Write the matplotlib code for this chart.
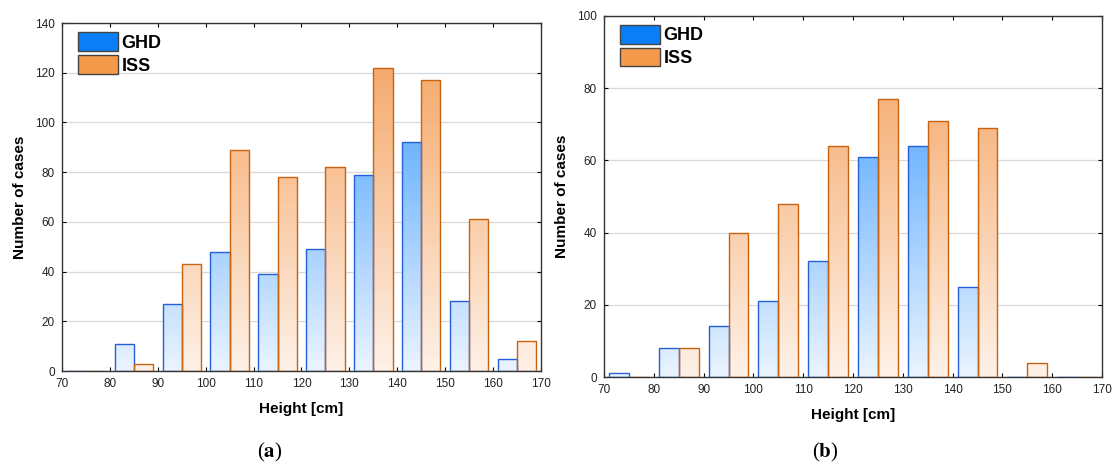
import matplotlib

matplotlib.use("Agg")
import matplotlib.pyplot as plt
import numpy as np
from matplotlib.colors import LinearSegmentedColormap
from matplotlib.patches import Patch

BIN_LEFT = [70, 80, 90, 100, 110, 120, 130, 140, 150, 160]
GHD_A = [0, 11, 27, 48, 39, 49, 79, 92, 28, 5]
ISS_A = [0, 3, 43, 89, 78, 82, 122, 117, 61, 12]
GHD_B = [1, 8, 14, 21, 32, 61, 64, 25, 0, 0]
ISS_B = [0, 8, 40, 48, 64, 77, 71, 69, 4, 0]
SERIES = ["GHD", "ISS"]

BLUE_CMAP = LinearSegmentedColormap.from_list("blue", ["#eaf4fe", "#2f93ff"])
ORANGE_CMAP = LinearSegmentedColormap.from_list("orange", ["#fef1e7", "#f4a05c"])
BLUE_EDGE, ORANGE_EDGE = "#2460d8", "#c8620e"

plt.rcParams.update({
    "font.family": ["Liberation Sans", "DejaVu Sans"],
    "font.size": 8.5,
    "mathtext.fontset": "stix",
})


def gradient_bars(ax, lefts, heights, width, cmap, edge, ymax):
    for x0, h in zip(lefts, heights):
        bar = ax.bar(x0, h, width=width, align="edge", facecolor="none",
                     edgecolor=edge, linewidth=1.0, zorder=3)[0]
        if h <= 0:
            continue
        grad = np.linspace(0, h / ymax, 64).reshape(-1, 1)
        im = ax.imshow(grad, extent=(x0, x0 + width, 0, h), origin="lower",
                       cmap=cmap, vmin=0, vmax=1, aspect="auto", zorder=2)
        im.set_clip_path(bar)


def panel(ax, ghd, iss, ymax, ystep):
    left = np.array(BIN_LEFT)
    gradient_bars(ax, left + 1, ghd, 4, BLUE_CMAP, BLUE_EDGE, ymax)
    gradient_bars(ax, left + 5, iss, 4, ORANGE_CMAP, ORANGE_EDGE, ymax)
    ax.set_xlim(70, 170)
    ax.set_ylim(0, ymax)
    ax.set_xticks(np.arange(70, 171, 10))
    ax.set_yticks(np.arange(0, ymax + 1, ystep))
    ax.grid(axis="y", color="#d9d9d9", lw=0.9, zorder=0)
    ax.set_axisbelow(True)
    ax.tick_params(direction="in", top=True, right=True, length=3, colors="black",
                   labelcolor="#222222", pad=5)
    for s in ax.spines.values():
        s.set_linewidth(1.0)
        s.set_color("#333333")
    ax.set_xlabel("Height [cm]", fontweight="bold", fontsize=11, labelpad=9)
    ax.set_ylabel("Number of cases", fontweight="bold", fontsize=11, labelpad=6)
    handles = [Patch(facecolor="#0a7ff5", edgecolor="#444444", lw=1.0),
               Patch(facecolor="#f59a4b", edgecolor="#444444", lw=1.0)]
    ax.legend(handles, SERIES, loc="upper left", frameon=False,
              prop={"weight": "bold", "size": 13}, handlelength=2.2, handleheight=1.2,
              handletextpad=0.2, labelspacing=0.2, borderaxespad=0.5,
              bbox_to_anchor=(0.0, 1.02))


fig = plt.figure(figsize=(11.13, 4.66), dpi=100)
W, H = 1113, 466
ax_a = fig.add_axes([62 / W, 1 - 371 / H, (541 - 62) / W, (371 - 23) / H])
ax_b = fig.add_axes([604 / W, 1 - 377 / H, (1102 - 604) / W, (377 - 16) / H])
panel(ax_a, GHD_A, ISS_A, 140, 20)
panel(ax_b, GHD_B, ISS_B, 100, 20)

for lbl, x in (("a", 270 / W), ("b", 825 / W)):
    fig.text(x, 1 - 452 / H, "(" + r"$\mathbf{" + lbl + "}$" + ")", ha="center",
             va="center", fontsize=15, family=["Liberation Serif", "DejaVu Serif"])

fig.savefig("out.png", dpi=100)
